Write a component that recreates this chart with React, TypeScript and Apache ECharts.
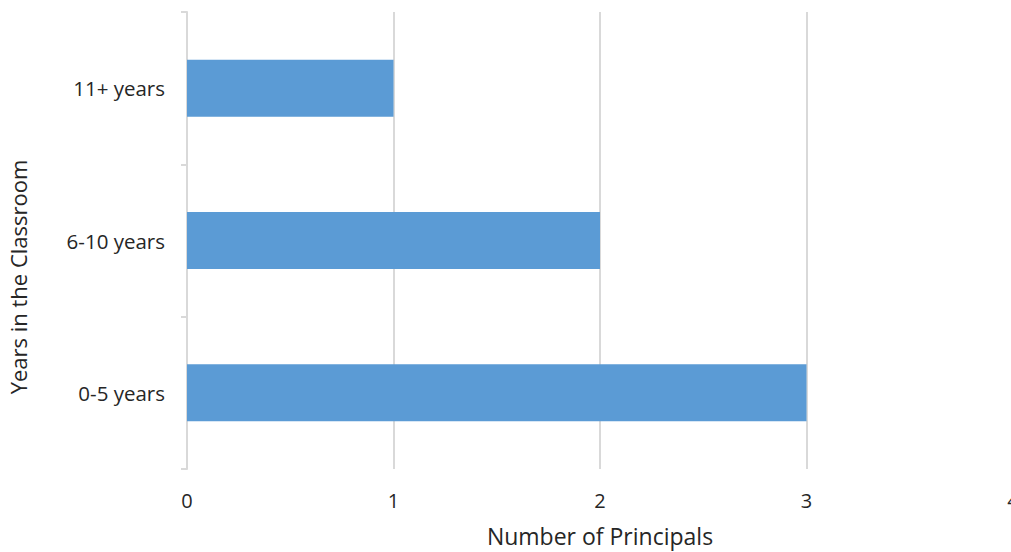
import React, { useEffect, useRef } from "react";
import * as echarts from "echarts";

const categories: string[] = ["0-5 years", "6-10 years", "11+ years"];
const principals: number[] = [3, 2, 1];
const xTicks = { min: 0, max: 4, interval: 1 };
const xTitle = "Number of Principals";
const yTitle = "Years in the Classroom";

const FONT = "'Open Sans', 'Noto Sans', sans-serif";
const TEXT = "#262626";

export default function App() {
  const ref = useRef<HTMLDivElement>(null);

  useEffect(() => {
    document.body.style.margin = "0";
    if (!ref.current) return;
    const chart = echarts.init(ref.current, null, { renderer: "svg" });
    chart.setOption({
      animation: false,
      backgroundColor: "#ffffff",
      grid: {
        left: 187,
        top: 12,
        width: 826,
        height: 457,
        containLabel: false,
        outerBoundsMode: "none",
      },
      xAxis: {
        type: "value",
        min: xTicks.min,
        max: xTicks.max,
        interval: xTicks.interval,
        name: xTitle,
        nameLocation: "middle",
        nameGap: 55,
        nameTextStyle: { fontFamily: FONT, fontSize: 23, color: TEXT },
        axisLine: { show: false },
        axisTick: { show: false },
        axisLabel: { fontFamily: FONT, fontSize: 20, color: TEXT, margin: 21, hideOverlap: false },
        splitLine: { show: true, lineStyle: { color: "#d9d9d9", width: 2 } },
      },
      yAxis: {
        type: "category",
        data: categories,
        axisLine: { show: true, lineStyle: { color: "#d9d9d9", width: 2 } },
        axisTick: { show: true, length: 6, lineStyle: { color: "#d9d9d9", width: 2 } },
        axisLabel: { fontFamily: FONT, fontSize: 20.5, color: TEXT, margin: 22 },
        splitLine: { show: false },
      },
      graphic: [
        {
          type: "text",
          x: 18,
          y: 277,
          rotation: Math.PI / 2,
          style: {
            text: yTitle,
            fontFamily: FONT,
            fontSize: 22,
            fill: TEXT,
            align: "center",
            verticalAlign: "middle",
          },
        },
      ],
      series: [
        {
          type: "bar",
          data: principals,
          barWidth: 57,
          itemStyle: { color: "#5b9bd5" },
        },
      ],
    });
    return () => chart.dispose();
  }, []);

  return <div ref={ref} style={{ width: 1011, height: 552 }} />;
}
